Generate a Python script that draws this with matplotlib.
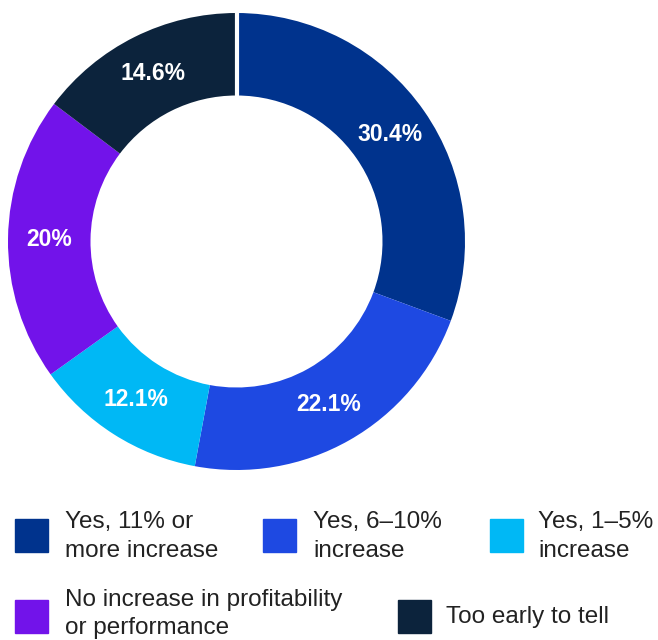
import matplotlib
matplotlib.use("Agg")
import matplotlib.pyplot as plt
from matplotlib.patches import Rectangle
import numpy as np

categories = ["Yes, 11% or\nmore increase", "Yes, 6–10%\nincrease", "Yes, 1–5%\nincrease",
              "No increase in profitability\nor performance", "Too early to tell"]
values = [30.4, 22.1, 12.1, 20, 14.6]
value_labels = ["30.4%", "22.1%", "12.1%", "20%", "14.6%"]
colors = ["#00338D", "#1E49E2", "#00B8F5", "#7213EA", "#0C233C"]

W, H = 658, 640
fig = plt.figure(figsize=(W / 100, H / 100), dpi=100)

cx, cy, R = 236.5, 241.5, 228.5
ax = fig.add_axes([(cx - R) / W, (H - cy - R) / H, 2 * R / W, 2 * R / H])

inner = 146 / R
width = 1 - inner
wedges, _ = ax.pie(values, colors=colors, startangle=90, counterclock=False, radius=1,
                   wedgeprops=dict(width=width, linewidth=0))
# thin white separator at the start
ax.plot([0, 0], [inner - 0.01, 1.01], color="white", lw=3.0, solid_capstyle="butt")
ax.set_xlim(-1, 1)
ax.set_ylim(-1, 1)
ax.set_aspect("equal")
ax.axis("off")

total = sum(values)
rmid = (1 + inner) / 2
ang = 90.0
for v, lab in zip(values, value_labels):
    span = v / total * 360
    mid = np.deg2rad(ang - span / 2)
    ax.text(rmid * np.cos(mid), rmid * np.sin(mid), lab, ha="center", va="center",
            color="white", fontsize=16.5, fontweight="bold", family="Liberation Sans")
    ang -= span

# legend
legend_pos = [(15, 519, 65, 17.5), (263, 519, 313, 17.5), (490, 519, 538, 17.5),
              (15, 600, 65, 14.0), (398, 600, 446, 16.5)]
for (sx, sy, tx, dy), lab, c in zip(legend_pos, categories, colors):
    fig.patches.append(Rectangle((sx / W, 1 - (sy + 33) / H), 33 / W, 33 / H,
                                 transform=fig.transFigure, color=c, figure=fig))
    fig.text(tx / W, 1 - (sy + dy) / H, lab, ha="left", va="center", fontsize=17.5,
             family="Liberation Sans", color="#222222", linespacing=1.38)

fig.savefig("out.png", dpi=100)
